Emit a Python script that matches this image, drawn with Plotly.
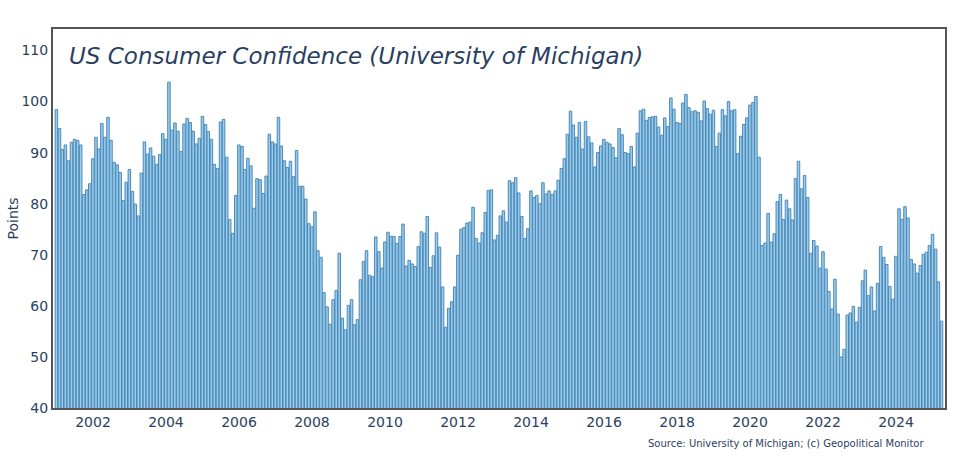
import plotly.graph_objects as go
import pandas as pd

start_month_end = "2000-12-31"
values = [
    98.4,
    94.7, 90.6, 91.5, 88.4, 92.0, 92.6, 92.4, 91.5, 81.8, 82.7, 83.9, 88.8,
    93.0, 90.7, 95.7, 93.0, 96.9, 92.4, 88.1, 87.6, 86.1, 80.6, 84.2, 86.7,
    82.4, 79.9, 77.6, 86.0, 92.1, 89.7, 90.9, 89.3, 87.7, 89.6, 93.7, 92.6,
    103.8, 94.4, 95.8, 94.2, 90.2, 95.6, 96.7, 95.9, 94.2, 91.7, 92.8, 97.1,
    95.5, 94.1, 92.6, 87.7, 86.9, 96.0, 96.5, 89.1, 76.9, 74.2, 81.6, 91.5,
    91.2, 86.7, 88.9, 87.4, 79.1, 84.9, 84.7, 82.0, 85.4, 93.6, 92.1, 91.7,
    96.9, 91.3, 88.4, 87.1, 88.3, 85.3, 90.4, 83.4, 83.4, 80.9, 76.1, 75.5,
    78.4, 70.8, 69.5, 62.6, 59.8, 56.4, 61.2, 63.0, 70.3, 57.6, 55.3, 60.1,
    61.2, 56.3, 57.3, 65.1, 68.7, 70.8, 66.0, 65.7, 73.5, 70.6, 67.4, 72.5,
    74.4, 73.6, 73.6, 72.2, 73.6, 76.0, 67.8, 68.9, 68.2, 67.7, 71.6, 74.5,
    74.2, 77.5, 67.5, 69.8, 74.3, 71.5, 63.7, 55.8, 59.5, 60.8, 63.7, 69.9,
    75.0, 75.3, 76.2, 76.4, 79.3, 73.2, 72.3, 74.3, 78.3, 82.6, 82.7, 72.9,
    73.8, 77.6, 78.6, 76.4, 84.5, 84.1, 85.1, 82.1, 77.5, 73.2, 75.1, 82.5,
    81.2, 81.6, 80.0, 84.1, 81.9, 82.5, 81.8, 82.5, 84.6, 86.9, 88.8, 93.6,
    98.1, 95.4, 93.0, 95.9, 90.7, 96.1, 93.1, 91.9, 87.2, 90.0, 91.3, 92.6,
    92.0, 91.7, 91.0, 89.0, 94.7, 93.5, 90.0, 89.8, 91.2, 87.2, 93.8, 98.2,
    98.5, 96.3, 96.9, 97.0, 97.1, 95.0, 93.4, 96.8, 95.1, 100.7, 98.5, 95.9,
    95.7, 99.7, 101.4, 98.8, 98.0, 98.2, 97.9, 96.2, 100.1, 98.6, 97.5, 98.3,
    91.2, 93.8, 98.4, 97.2, 100.0, 98.2, 98.4, 89.8, 93.2, 95.5, 96.8, 99.3,
    99.8, 101.0, 89.1, 71.8, 72.3, 78.1, 72.5, 74.1, 80.4, 81.8, 76.9, 80.7,
    79.0, 76.8, 84.9, 88.3, 82.9, 85.5, 81.2, 70.3, 72.8, 71.7, 67.4, 70.6,
    67.2, 62.8, 59.4, 65.2, 58.4, 50.0, 51.5, 58.2, 58.6, 59.9, 56.8, 59.7,
    64.9, 67.0, 62.0, 63.7, 59.0, 64.4, 71.6, 69.5, 68.1, 63.8, 61.3, 69.7,
    79.0, 76.9, 79.4, 77.2, 69.1, 68.2, 66.4, 67.9, 70.1, 70.5, 71.8, 74.0,
    71.1, 64.7, 57.0,
]
dates = pd.date_range(start_month_end, periods=len(values), freq="ME")

title_text = "US Consumer Confidence (University of Michigan)"
source_text = "Source: University of Michigan; (c) Geopolitical Monitor"
y_title = "Points"
x_range = ["2000-11-27", "2025-05-05"]

txt = "#2a3f5f"

fig = go.Figure(go.Bar(
    x=dates, y=values,
    marker=dict(color="rgb(155,205,235)", line=dict(color="rgb(75,137,185)", width=1)),
))

fig.update_layout(
    width=970, height=466,
    margin=dict(l=53, r=25, t=29, b=58),
    plot_bgcolor="white", paper_bgcolor="white",
    bargap=0.1,
    showlegend=False,
    font=dict(family="DejaVu Sans", color=txt, size=14),
    annotations=[
        dict(text=title_text, xref="paper", yref="paper", x=0.016, y=0.968,
             xanchor="left", yanchor="top", showarrow=False,
             font=dict(size=23, color=txt, style="italic")),
        dict(text=source_text, xref="paper", yref="paper", x=0.979, y=-0.075,
             xanchor="right", yanchor="top", showarrow=False,
             font=dict(size=10, color=txt)),
    ],
)
fig.update_xaxes(
    type="date", range=x_range, tickformat="%Y", dtick="M24", tick0="2002-01-01",
    showgrid=False, showline=True, mirror=True, linecolor="#555555", linewidth=2,
    ticks="", tickfont=dict(size=14), automargin=False,
)
fig.update_yaxes(
    range=[40, 114.2], dtick=10, showgrid=False, zeroline=False,
    showline=True, mirror=True, linecolor="#555555", linewidth=2,
    title=dict(text=y_title, font=dict(size=14), standoff=0),
    tickfont=dict(size=14), automargin=False,
)

fig.write_html("out.html")
